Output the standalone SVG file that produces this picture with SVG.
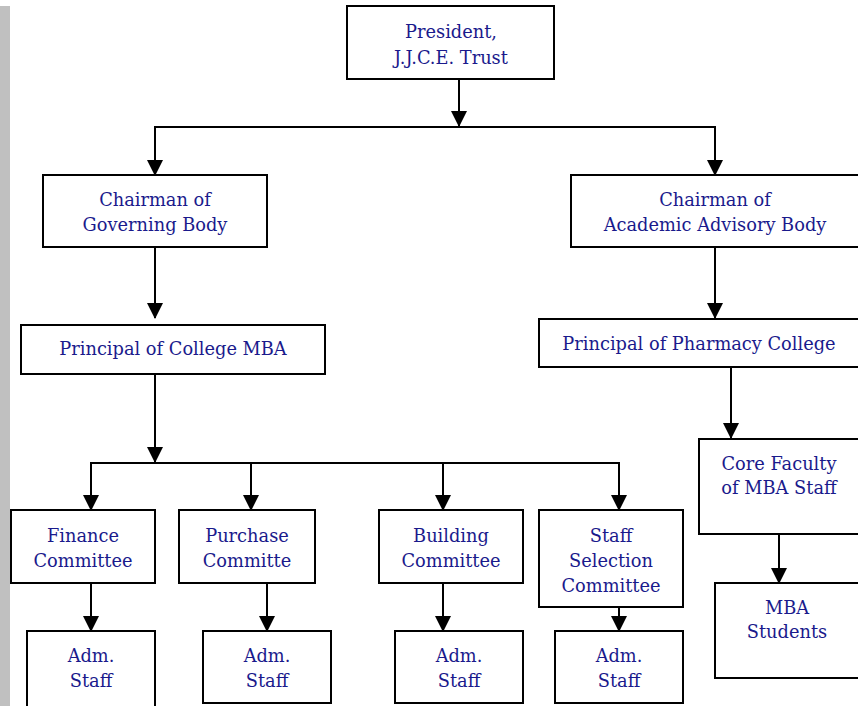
<svg xmlns="http://www.w3.org/2000/svg" width="858" height="706" viewBox="0 0 858 706">
<defs>
<style>
.box{fill:#ffffff;stroke:#000000;stroke-width:2}
.t{font-family:"DejaVu Serif","Liberation Serif",serif;font-size:17.8px;fill:#1a1a8c;text-anchor:middle}
.c{fill:none;stroke:#000000;stroke-width:2}
</style>
<marker id="ah" markerUnits="userSpaceOnUse" markerWidth="16" markerHeight="16" refX="15" refY="8" orient="auto" viewBox="0 0 16 16">
<path d="M0,0 L16,8 L0,16 Z" fill="#000000"/>
</marker>
</defs>
<rect x="0" y="0" width="858" height="706" fill="#ffffff"/>
<rect x="0" y="6" width="10" height="700" fill="#c0c0c0"/>

<g id="connectors">
<line class="c" x1="459" y1="79" x2="459" y2="126" marker-end="url(#ah)"/>
<polyline class="c" points="155,175 155,127 715,127 715,175" />
<line class="c" x1="155" y1="150" x2="155" y2="175" marker-end="url(#ah)"/>
<line class="c" x1="715" y1="150" x2="715" y2="175" marker-end="url(#ah)"/>
<line class="c" x1="155" y1="247" x2="155" y2="318" marker-end="url(#ah)"/>
<line class="c" x1="715" y1="247" x2="715" y2="318" marker-end="url(#ah)"/>
<line class="c" x1="155" y1="367" x2="155" y2="462" marker-end="url(#ah)"/>
<polyline class="c" points="91,510 91,463 619,463 619,510"/>
<line class="c" x1="91" y1="490" x2="91" y2="510" marker-end="url(#ah)"/>
<line class="c" x1="251" y1="463" x2="251" y2="510" marker-end="url(#ah)"/>
<line class="c" x1="443" y1="463" x2="443" y2="510" marker-end="url(#ah)"/>
<line class="c" x1="619" y1="490" x2="619" y2="510" marker-end="url(#ah)"/>
<line class="c" x1="91" y1="583" x2="91" y2="631" marker-end="url(#ah)"/>
<line class="c" x1="267" y1="583" x2="267" y2="631" marker-end="url(#ah)"/>
<line class="c" x1="443" y1="583" x2="443" y2="631" marker-end="url(#ah)"/>
<line class="c" x1="619" y1="607" x2="619" y2="631" marker-end="url(#ah)"/>
<line class="c" x1="731" y1="367" x2="731" y2="438" marker-end="url(#ah)"/>
<line class="c" x1="779" y1="534" x2="779" y2="583" marker-end="url(#ah)"/>
</g>

<g id="president">
<rect class="box" x="347" y="6" width="207" height="73"/>
<text class="t" x="451" y="38">President,</text>
<text class="t" x="451" y="64">J.J.C.E. Trust</text>
</g>

<g id="chairman-governing">
<rect class="box" x="43" y="175" width="224" height="72"/>
<text class="t" x="155" y="206">Chairman of</text>
<text class="t" x="155" y="231">Governing Body</text>
</g>

<g id="chairman-academic">
<rect class="box" x="571" y="175" width="292" height="72"/>
<text class="t" x="715" y="206">Chairman of</text>
<text class="t" x="715" y="231">Academic Advisory Body</text>
</g>

<g id="principal-mba">
<rect class="box" x="21" y="325" width="304" height="49"/>
<text class="t" x="173" y="355">Principal of College MBA</text>
</g>

<g id="principal-pharmacy">
<rect class="box" x="539" y="319" width="324" height="48"/>
<text class="t" x="699" y="350">Principal of Pharmacy College</text>
</g>

<g id="finance">
<rect class="box" x="11" y="510" width="144" height="73"/>
<text class="t" x="83" y="542">Finance</text>
<text class="t" x="83" y="567">Committee</text>
</g>

<g id="purchase">
<rect class="box" x="179" y="510" width="136" height="73"/>
<text class="t" x="247" y="542">Purchase</text>
<text class="t" x="247" y="567">Committe</text>
</g>

<g id="building">
<rect class="box" x="379" y="510" width="144" height="73"/>
<text class="t" x="451" y="542">Building</text>
<text class="t" x="451" y="567">Committee</text>
</g>

<g id="staff-selection">
<rect class="box" x="539" y="510" width="144" height="97"/>
<text class="t" x="611" y="542">Staff</text>
<text class="t" x="611" y="567">Selection</text>
<text class="t" x="611" y="592">Committee</text>
</g>

<g id="adm-staff-1">
<rect class="box" x="27" y="631" width="128" height="82"/>
<text class="t" x="91" y="662">Adm.</text>
<text class="t" x="91" y="687">Staff</text>
</g>

<g id="adm-staff-2">
<rect class="box" x="203" y="631" width="128" height="72"/>
<text class="t" x="267" y="662">Adm.</text>
<text class="t" x="267" y="687">Staff</text>
</g>

<g id="adm-staff-3">
<rect class="box" x="395" y="631" width="128" height="72"/>
<text class="t" x="459" y="662">Adm.</text>
<text class="t" x="459" y="687">Staff</text>
</g>

<g id="adm-staff-4">
<rect class="box" x="555" y="631" width="128" height="72"/>
<text class="t" x="619" y="662">Adm.</text>
<text class="t" x="619" y="687">Staff</text>
</g>

<g id="core-faculty">
<rect class="box" x="699" y="439" width="164" height="95"/>
<text class="t" x="779" y="470">Core Faculty</text>
<text class="t" x="779" y="494">of MBA Staff</text>
</g>

<g id="mba-students">
<rect class="box" x="715" y="583" width="148" height="95"/>
<text class="t" x="787" y="614">MBA</text>
<text class="t" x="787" y="638">Students</text>
</g>
</svg>
